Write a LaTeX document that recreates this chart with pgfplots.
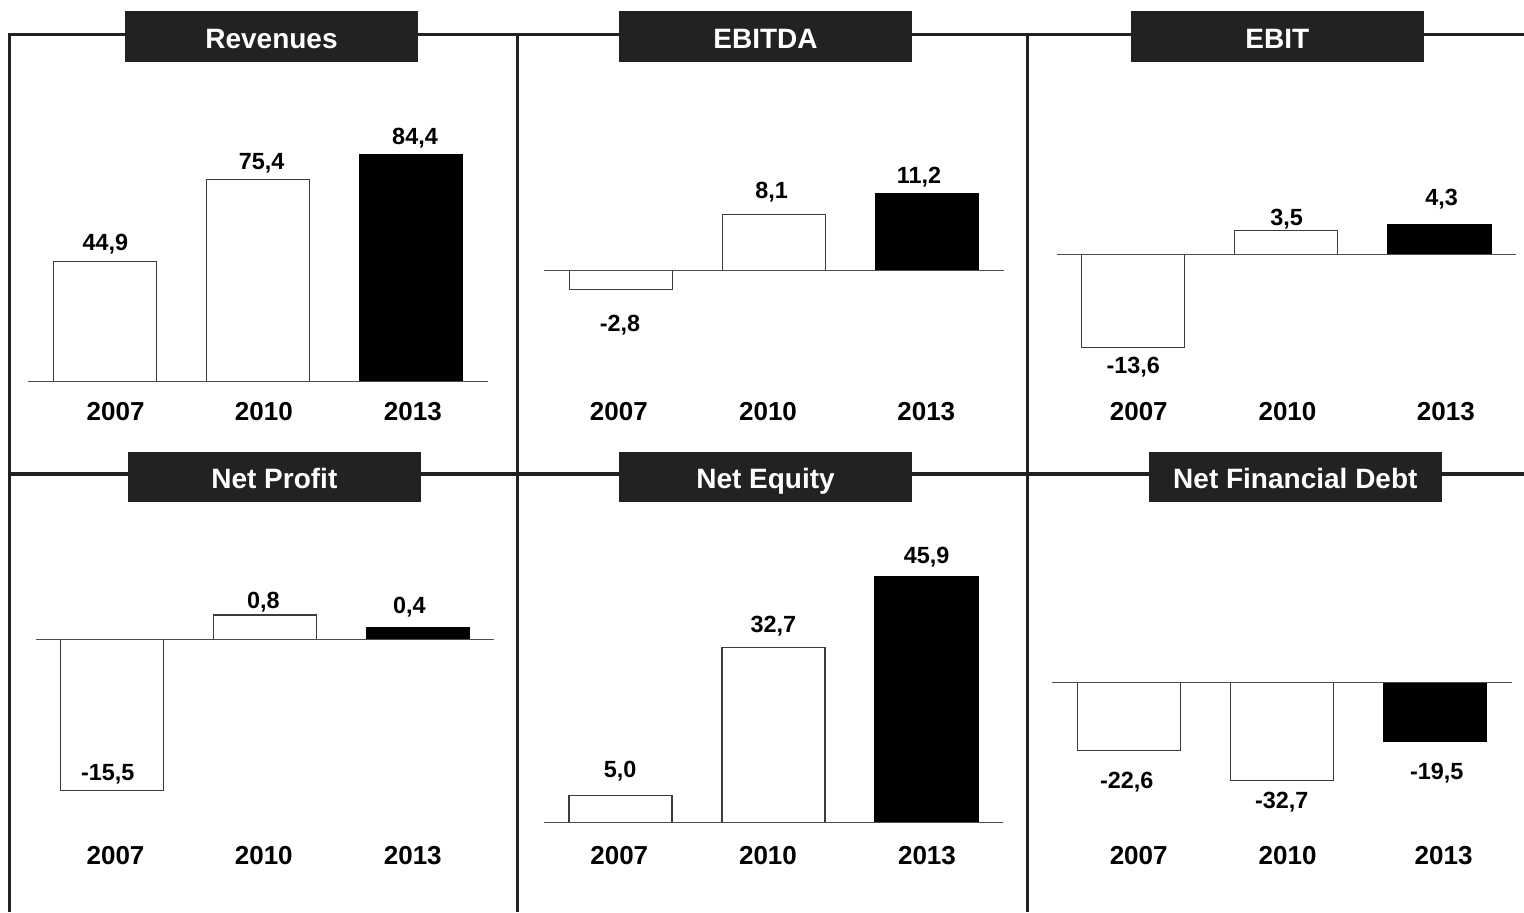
\documentclass[border=0pt]{standalone}
\usepackage{fontspec}
\setmainfont{Liberation Sans}
\usepackage{pgfplots}
\pgfplotsset{compat=1.18}

\definecolor{framegray}{HTML}{222222}
\definecolor{barline}{HTML}{3C3C3C}
\definecolor{zeroline}{HTML}{4D4D4D}

\pgfplotsset{
  kpi/.style={
    scale only axis,
    anchor=south west,
    xmin=-0.5, xmax=2.5,
    axis line style={draw=none},
    ytick=\empty,
    major tick length=0pt,
    xticklabels={2007,2010,2013},
    xticklabel style={font=\fontsize{13}{13}\selectfont\bfseries, inner sep=0pt, anchor=north},
    clip=false,
  },
  whitebar/.style={ybar, bar shift=0pt, bar width=51.5pt, draw=barline, fill=white, line width=0.6pt},
  blackbar/.style={ybar, bar shift=0pt, bar width=51.5pt, draw=black, fill=black, line width=0.6pt},
  zero/.style={zeroline, line width=0.6pt, no markers},
  valuelabel/.style={draw=none, no markers, nodes near coords,
    point meta=explicit symbolic,
    every node near coord/.append style={anchor=base, inner sep=0pt,
      font=\fontsize{11.7}{12}\selectfont\bfseries, text=black}},
}

\newcommand{\paneltitle}[6]{% x1 y1 x2 y2 (pt), baseline y, text
  \fill[framegray] (#1,#2) rectangle (#3,#4);
  \node[anchor=base, text=white, inner sep=0pt, font=\fontsize{14}{14}\selectfont\bfseries]
    at ({(#1+#3)/2},#5) {#6};
}

\begin{document}
\begin{tikzpicture}
\path[use as bounding box] (0,0) rectangle (762pt,456pt);

% frame lines
\draw[framegray, line width=1.7pt] (3.75pt,438.65pt) -- (762pt,438.65pt);
\draw[framegray, line width=1.7pt] (4.6pt,439.5pt) -- (4.6pt,0pt);
\draw[framegray, line width=1.7pt] (258.7pt,439.5pt) -- (258.7pt,0pt);
\draw[framegray, line width=1.7pt] (513.7pt,439.5pt) -- (513.7pt,0pt);
\draw[framegray, line width=1.7pt] (4.6pt,219.1pt) -- (762pt,219.1pt);

% Revenues
\begin{axis}[kpi, at={(14pt,255.15pt)}, width=230pt, height=165.85pt,
  ymin=-7.449, ymax=116.09, xtick={0.071,1.038,2.010}]
\addplot[whitebar] coordinates {(0,44.9) (1,75.4)};
\addplot[blackbar] coordinates {(2,84.4)};
\addplot[zero] coordinates {(-0.5,0) (2.5,0)};
\addplot[valuelabel] table[meta=label] {
x y label
0.004 49.05 44,9
1.024 78.85 75,4
2.024 88.16 84,4
};
\end{axis}

% EBITDA
\begin{axis}[kpi, at={(272pt,255.15pt)}, width=230pt, height=165.85pt,
  ymin=-19.11, ymax=29.13, xtick={-0.012,0.961,1.993}]
\addplot[whitebar] coordinates {(0,-2.8) (1,8.1)};
\addplot[blackbar] coordinates {(2,11.2)};
\addplot[zero] coordinates {(-0.5,0) (2.5,0)};
\addplot[valuelabel] table[meta=label] {
x y label
-0.004 -8.83 -2,8
0.985 10.37 8,1
1.946 12.65 11,2
};
\end{axis}

% EBIT
\begin{axis}[kpi, at={(528.25pt,255.15pt)}, width=229.75pt, height=165.85pt,
  ymin=-21.55, ymax=26.94, xtick={0.037,1.008,2.042}]
\addplot[whitebar] coordinates {(0,-13.6) (1,3.5)};
\addplot[blackbar] coordinates {(2,4.3)};
\addplot[zero] coordinates {(-0.5,0) (2.5,0)};
\addplot[valuelabel] table[meta=label] {
x y label
0.001 -17.40 -13,6
1.003 4.14 3,5
2.015 7.06 4,3
};
\end{axis}

% Net Profit (positive side drawn on a larger scale, as in the original)
\begin{axis}[kpi, at={(18pt,33pt)}, width=229pt, height=168pt,
  y coord trafo/.code={\pgfmathparse{ifthenelse(#1>0,3.131*(#1),#1)}},
  ymin=-21.22, ymax=4.24, xtick={0.021,0.992,1.968}]
\addplot[whitebar] coordinates {(0,-15.5) (1,0.8)};
\addplot[blackbar] coordinates {(2,0.4)};
\addplot[zero] coordinates {(-0.5,0) (2.5,0)};
\addplot[valuelabel] table[meta=label] {
x y label
-0.030 -14.45 -15,5
0.989 1.017 0,8
1.945 0.853 0,4
};
\end{axis}

% Net Equity
\begin{axis}[kpi, at={(272pt,33pt)}, width=229.5pt, height=168pt,
  ymin=-4.43, ymax=58.37, xtick={-0.008,0.964,2.003}]
\addplot[whitebar] coordinates {(0,5.0) (1,32.7)};
\addplot[blackbar] coordinates {(2,45.9)};
\addplot[zero] coordinates {(-0.5,0) (2.5,0)};
\addplot[valuelabel] table[meta=label] {
x y label
-0.003 8.41 5,0
0.999 35.44 32,7
2.001 48.28 45,9
};
\end{axis}

% Net Financial Debt
\begin{axis}[kpi, at={(526pt,33pt)}, width=229.75pt, height=168pt,
  ymin=-54.43, ymax=57.57, xtick={0.066,1.038,2.057}]
\addplot[whitebar] coordinates {(0,-22.6) (1,-32.7)};
\addplot[blackbar] coordinates {(2,-19.5)};
\addplot[zero] coordinates {(-0.5,0) (2.5,0)};
\addplot[valuelabel] table[meta=label] {
x y label
-0.012 -35.20 -22,6
1.000 -41.87 -32,7
2.012 -32.10 -19,5
};
\end{axis}

% title boxes
\paneltitle{62.5pt}{425pt}{209pt}{450.5pt}{431.85pt}{Revenues}
\paneltitle{309.5pt}{425pt}{456pt}{450.5pt}{431.85pt}{EBITDA}
\paneltitle{565.5pt}{425pt}{711.85pt}{450.5pt}{431.85pt}{EBIT}
\paneltitle{64pt}{205.15pt}{210.35pt}{229.85pt}{211.85pt}{Net Profit}
\paneltitle{309.5pt}{205.15pt}{456pt}{229.85pt}{211.85pt}{Net Equity}
\paneltitle{574.5pt}{205.15pt}{720.85pt}{229.85pt}{211.85pt}{Net Financial Debt}
\end{tikzpicture}
\end{document}
